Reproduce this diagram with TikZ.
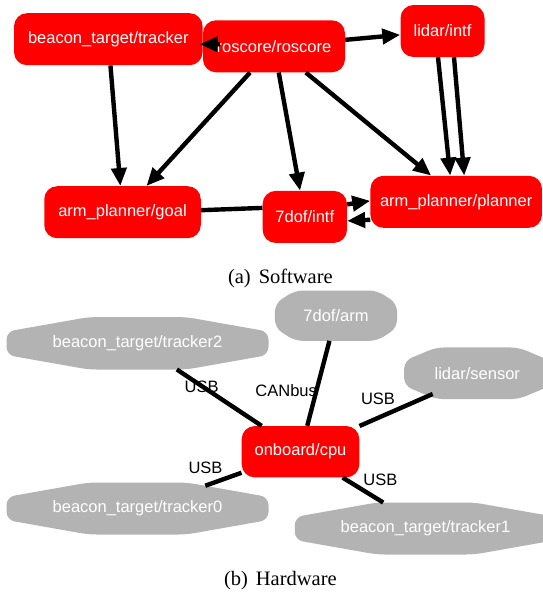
\documentclass[tikz,border=0pt]{standalone}
\usepackage{fontspec}
\setmainfont{Liberation Sans}
\newfontfamily\capfont{Liberation Serif}
\usetikzlibrary{arrows.meta}
\definecolor{swred}{RGB}{255,0,0}
\definecolor{hwgray}{RGB}{179,179,179}
\pgfdeclarelayer{background}
\pgfsetlayers{background,main}

% grey octagon with rounded corners behind a named rectangle node
% #1 node name, #2 horizontal slant, #3 vertical slant
\newcommand{\octfill}[3]{%
  \fill[hwgray, rounded corners=8pt]
    ([xshift=#2]#1.north west) -- ([xshift=-#2]#1.north east)
    -- ([yshift=-#3]#1.north east) -- ([yshift=#3]#1.south east)
    -- ([xshift=-#2]#1.south east) -- ([xshift=#2]#1.south west)
    -- ([yshift=#3]#1.south west) -- ([yshift=-#3]#1.north west) -- cycle;}

\begin{document}
\begin{tikzpicture}[x=1pt,y=-1pt,
  font=\fontsize{16.5}{19}\selectfont,
  redbox/.style={shape=rectangle, fill=swred, rounded corners=13pt,
    text=white, inner sep=0pt, minimum height=52pt},
  octbox/.style={shape=rectangle, inner sep=0pt, text=white},
  link/.style={line width=4.4pt},
  arr/.style={link, -{Triangle[length=18pt,width=15pt]}},
  elabel/.style={text=black, inner sep=0pt},
  caption/.style={inner sep=0pt, font=\capfont\fontsize{20.5}{24}\selectfont}
]
\useasboundingbox (0,0) rectangle (543,595);
\clip (0,0) rectangle (543,595);

% ---------- software graph ----------
\node[redbox, minimum width=188.5pt] (tracker) at (108.3,39.2) {beacon\_target/tracker};
\node[redbox, minimum width=142pt]   (roscore) at (274,46.3)   {roscore/roscore};
\node[redbox, minimum width=84pt]    (lidar)   at (442.5,31)   {lidar/intf};
\node[redbox, minimum width=156.5pt] (goal)    at (122.5,212.2) {arm\_planner/goal};
\node[redbox, minimum width=84.3pt]  (dofintf) at (304.8,216.9) {7dof/intf};
\node[redbox, minimum width=171.5pt] (planner) at (456.2,201.8) {arm\_planner/planner};

\draw[arr] (tracker) -- (goal);
\draw[arr] ([xshift=17pt,yshift=2pt]roscore.west) -- ([xshift=-3pt,yshift=-5pt]tracker.east);
\draw[arr] (roscore) -- (lidar);
\draw[arr] (roscore) -- (goal);
\draw[arr] (roscore) -- (dofintf);
\draw[arr] (roscore) -- ([xshift=-25pt]planner.north);
\draw[arr] ([xshift=-4.5pt]lidar.south) -- ([xshift=-6pt]planner.north);
\draw[arr] ([xshift=11.5pt]lidar.south) -- ([xshift=8pt]planner.north);
\draw[link] ([yshift=2pt]goal.east) -- ([yshift=9pt]dofintf.west);
\draw[arr] ([yshift=12.5pt]dofintf.east) -- ([yshift=1pt]planner.west);
\draw[arr] ([yshift=-18pt]planner.west) -- ([yshift=-4pt]dofintf.east);

\node[caption] (capA) at (280.4,278.3) {(a)\hspace{8pt}Software};

% ---------- hardware graph ----------
\node[octbox, minimum width=261.6pt, minimum height=52pt]   (tr2)     at (137.5,343.3) {beacon\_target/tracker2};
\node[octbox, minimum width=121.7pt, minimum height=50pt]   (arm)     at (336,315.7)   {7dof/arm};
\node[octbox, minimum width=146pt,   minimum height=51.3pt] (lidsens) at (477.3,373.3) {lidar/sensor};
\node[redbox, minimum width=117.6pt, minimum height=51.3pt] (cpu)     at (300.5,451.7) {onboard/cpu};
\node[octbox, minimum width=261.6pt, minimum height=51.6pt] (tr0)     at (137.5,508.5) {beacon\_target/tracker0};
\node[octbox, minimum width=261pt,   minimum height=51.6pt] (tr1)     at (425.5,528.5) {beacon\_target/tracker1};

\begin{pgfonlayer}{background}
  \octfill{tr2}{82pt}{14.5pt}
  \octfill{arm}{20pt}{13pt}
  \octfill{lidsens}{32pt}{13.4pt}
  \octfill{tr0}{82pt}{14.5pt}
  \octfill{tr1}{82pt}{14.5pt}
\end{pgfonlayer}

\draw[link] (tr2) -- (cpu);
\draw[link] (arm) -- (cpu);
\draw[link] ([xshift=-44.6pt,yshift=-20.7pt]lidsens.center) -- (cpu);
\draw[link] (cpu) -- ([xshift=67.8pt,yshift=22.8pt]tr0.center);
\draw[link] (cpu) -- (tr1);

\node[elabel] (l2)   at (201.7,387.3) {USB};
\node[elabel] (lcan) at (286.2,391)   {CANbus};
\node[elabel] (llid) at (378,399)     {USB};
\node[elabel] (l0)   at (205.5,468.3) {USB};
\node[elabel] (l1)   at (380.3,480)   {USB};

\node[caption] (capB) at (280.4,580.5) {(b)\hspace{8pt}Hardware};
\end{tikzpicture}
\end{document}
